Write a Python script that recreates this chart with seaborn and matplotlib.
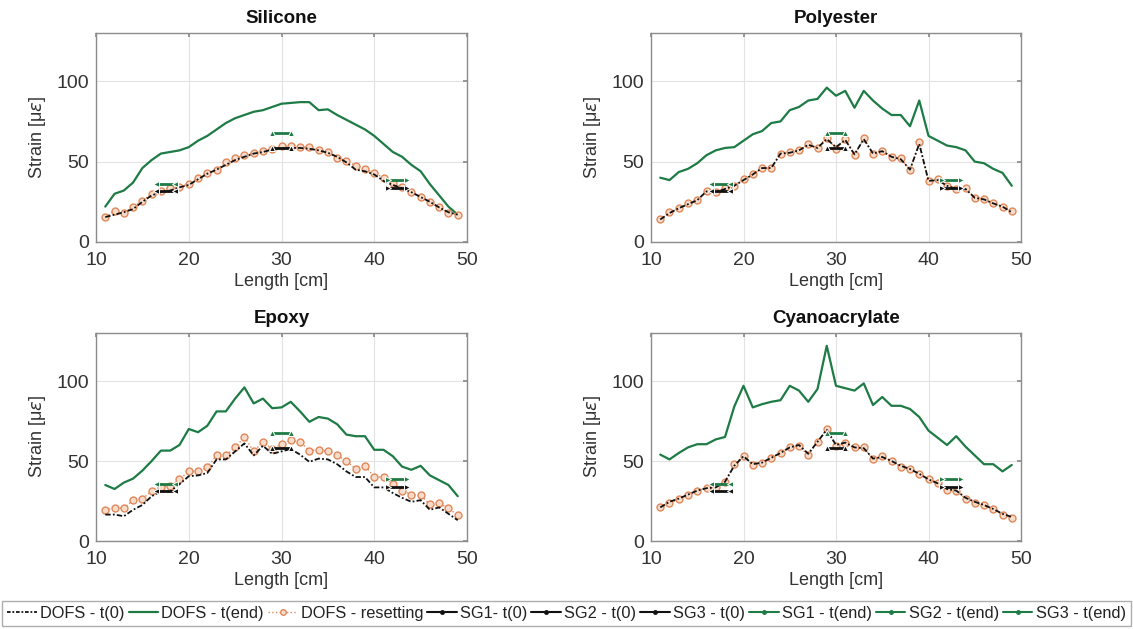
import numpy as np
import pandas as pd
import matplotlib
matplotlib.use("Agg")
import matplotlib.pyplot as plt
import seaborn as sns
from matplotlib.lines import Line2D

sns.set_theme(style="whitegrid")
plt.rcParams['font.family'] = ['Liberation Sans', 'DejaVu Sans']
plt.rcParams['mathtext.fontset'] = 'dejavusans'

length = list(range(11, 50))
titles = ["Silicone", "Polyester", "Epoxy", "Cyanoacrylate"]

sil_t0 = [15.5, 17, 18.5, 20.5, 25, 29, 31, 32, 34, 35.5, 39, 42.5, 45, 48, 51, 53, 55, 56, 57.5, 58.5,
          58.5, 58.5, 58, 57, 55.5, 53, 49.5, 45, 44, 42, 38, 35.5, 33.5, 31, 28, 25, 21.5, 18.5, 17]
sil_tend = [22, 30, 32, 37, 46, 51, 55, 56, 57, 59, 63, 66, 70, 74, 77, 79, 81, 82, 84, 86,
            86.5, 87, 87, 82, 82.5, 79, 76, 73, 70, 66, 61, 56, 53, 48, 44, 36, 29, 22, 17]
sil_reset = [15.5, 19.5, 18, 22, 25.5, 30, 32, 33.5, 34.5, 36, 40, 43, 45, 49.5, 52, 54, 55.5, 56.5, 58, 59.5,
             59.5, 59, 59, 57, 56, 52.5, 50.5, 47.5, 45.5, 43, 40, 36.5, 34, 31, 28, 25, 21.5, 18, 17]

pol_t0 = [14, 18, 21, 23.5, 26, 31.5, 31, 33, 35, 38.5, 42, 46, 46, 55, 55.5, 57, 60.5, 58.5, 64, 59,
          63.5, 54.5, 64, 55, 56.5, 53, 51.5, 45, 61, 38, 38.5, 35, 33, 33, 27.5, 26.5, 24, 22, 18.5]
pol_tend = [40, 38.5, 43.5, 45.5, 49, 54, 57, 58.5, 59, 63, 67, 69, 74, 75, 82, 84, 88, 89, 96, 91,
            94, 83.5, 94, 88, 83, 79, 79, 72, 88, 66, 63, 60, 59, 57, 50, 49, 45.5, 43, 35]
pol_reset = [14, 18.5, 21, 24, 26, 32, 31, 33.5, 35, 39, 42, 46, 46, 55, 56, 57, 61, 58.5, 65, 58,
             64, 54, 64.5, 55, 56.5, 53, 52, 45, 62, 38, 39, 35, 33, 33.5, 27.5, 27, 24, 22, 19]

epo_t0 = [16.5, 16.5, 15.5, 19.5, 22.5, 28, 31, 31, 35.5, 40.5, 41, 42.5, 51, 51, 56, 61, 53.5, 59.5, 54.5, 56,
          57.5, 54, 49.5, 51.5, 51, 48, 43.5, 40, 40, 33.5, 33.5, 30, 27, 24.5, 25.5, 19.5, 21, 17, 13]
epo_tend = [35, 32.5, 36.5, 39, 44, 50, 56.5, 56.5, 60, 70, 68, 72, 81, 81, 89, 96, 86, 89, 83, 83.5,
            87, 81, 74.5, 77.5, 76.5, 73, 66.5, 65.5, 65.5, 57, 57, 53, 46.5, 44.5, 47, 41, 38, 35, 28]
epo_reset = [19.5, 20.5, 20.5, 25.5, 26.5, 31, 34, 34.5, 38.5, 43.5, 43.5, 46, 53.5, 53.5, 58.5, 65, 56, 62, 57.5, 60.5,
             63, 62, 56.5, 57, 56, 53.5, 50, 45, 47, 40, 40, 35.5, 31.5, 29, 28.5, 23, 23.5, 20.5, 16]

cya_t0 = [21, 24.5, 26.5, 29, 31.5, 33, 33.5, 37, 47, 53, 48, 49, 52, 55, 58.5, 60, 54.5, 62, 69.5, 60,
          61.5, 58.5, 58, 51.5, 52.5, 50, 47, 45, 42, 38.5, 36, 32.5, 31.5, 27, 24.5, 22.5, 20, 17, 15]
cya_tend = [54, 51, 55, 58.5, 60.5, 60.5, 63.5, 65, 84, 97, 83.5, 85.5, 87, 88, 97, 94, 87, 95, 122, 97,
            95.5, 94, 98.5, 85, 90, 84.5, 84.5, 82.5, 77.5, 69, 64.5, 60, 65.5, 59, 53.5, 48, 48, 43.5, 47.5]
cya_reset = [21, 24, 26, 29, 31.5, 33, 34, 37, 48, 53, 47.5, 48.5, 52, 55, 59, 59.5, 53.5, 62, 70, 59.5,
             61, 58.5, 58.5, 51, 53, 50, 46.5, 45, 42, 39, 36.5, 32, 31.5, 26.5, 24, 22.5, 20, 16.5, 14.5]

t0_all = [sil_t0, pol_t0, epo_t0, cya_t0]
tend_all = [sil_tend, pol_tend, epo_tend, cya_tend]
reset_all = [sil_reset, pol_reset, epo_reset, cya_reset]

# strain gauges: x extent and values
sg_x = [[16.5, 18.5], [29, 31], [41.5, 43.5]]
sg_t0 = [31.5, 58.2, 33.5]
sg_tend = [35.8, 67.5, 38.8]
sg_markers = ["<", "^", ">"]

GREEN = "#1e7b45"
ORANGE = "#e0885a"
BLACK = "#111111"

W, H = 1133, 629
fig = plt.figure(figsize=(W / 100, H / 100), dpi=100)
fig.patch.set_facecolor("white")

boxes = [(96, 33, 467, 242), (651, 33, 1021, 242), (96, 333, 467, 541), (651, 333, 1021, 541)]

for i, (l, t, r, b) in enumerate(boxes):
    ax = fig.add_axes([l / W, (H - b) / H, (r - l) / W, (b - t) / H])
    df = pd.DataFrame({"x": length, "t0": t0_all[i], "tend": tend_all[i], "reset": reset_all[i]})
    sns.lineplot(data=df, x="x", y="tend", ax=ax, color=GREEN, lw=1.6, estimator=None, sort=False)
    sns.lineplot(data=df, x="x", y="reset", ax=ax, color=ORANGE, lw=1.0, ls=":", marker="o",
                 markersize=5, markerfacecolor="#f8dccb", markeredgecolor=ORANGE, markeredgewidth=1.0,
                 estimator=None, sort=False)
    sns.lineplot(data=df, x="x", y="t0", ax=ax, color=BLACK, lw=1.3, estimator=None, sort=False)
    ax.lines[-1].set_dashes([3, 1.2, 1, 1.2])
    for k in range(3):
        sdf = pd.DataFrame({"x": sg_x[k], "y": [sg_t0[k]] * 2})
        sns.lineplot(data=sdf, x="x", y="y", ax=ax, color=BLACK, lw=2.0, marker=sg_markers[k],
                     markersize=5, estimator=None, sort=False)
        sdf2 = pd.DataFrame({"x": sg_x[k], "y": [sg_tend[k]] * 2})
        sns.lineplot(data=sdf2, x="x", y="y", ax=ax, color=GREEN, lw=2.0, marker=sg_markers[k],
                     markersize=5, estimator=None, sort=False)
    ax.set_xlim(10, 50)
    ax.set_ylim(0, 130)
    ax.set_xticks([10, 20, 30, 40, 50])
    ax.set_yticks([0, 50, 100])
    ax.set_facecolor("white")
    ax.grid(True, color="#e3e3e3", lw=0.8)
    for s in ax.spines.values():
        s.set_color("#8c8c8c")
        s.set_linewidth(1.0)
    ax.tick_params(axis="both", labelsize=14, colors="#8c8c8c", labelcolor="#333333",
                   length=3, direction="in", top=True, right=True)
    ax.tick_params(axis="x", pad=7)
    ax.tick_params(axis="y", pad=5)
    ax.set_xlabel("Length [cm]", fontsize=13, color="#333333", labelpad=3)
    ax.set_ylabel("Strain [\u03bc$\\epsilon$]", fontsize=13, color="#333333", labelpad=6)
    ax.set_title(titles[i], fontsize=13.5, fontweight="bold", color="#111111", pad=7)

handles = [
    Line2D([], [], color=BLACK, lw=1.3, dashes=[2, 1, 1, 1]),
    Line2D([], [], color=GREEN, lw=1.6),
    Line2D([], [], color=ORANGE, lw=1.0, ls=":", marker="o", markersize=4,
           markerfacecolor="#f8dccb", markeredgecolor=ORANGE),
]
labels = ["DOFS - t(0)", "DOFS - t(end)", "DOFS - resetting"]
for k in range(3):
    handles.append(Line2D([], [], color=BLACK, lw=1.5, marker=".", markersize=5))
    labels.append(["SG1- t(0)", "SG2 - t(0)", "SG3 - t(0)"][k])
for k in range(3):
    handles.append(Line2D([], [], color=GREEN, lw=1.5, marker=".", markersize=5))
    labels.append(["SG1 - t(end)", "SG2 - t(end)", "SG3 - t(end)"][k])

leg = fig.legend(handles, labels, loc="lower center", bbox_to_anchor=(0.5, 0.002), ncol=9,
                 fontsize=11.8, frameon=True, fancybox=False, handlelength=1.8, handletextpad=0.2,
                 columnspacing=0.25, borderpad=0.3, borderaxespad=0.1)
leg.get_frame().set_edgecolor("#999999")
leg.get_frame().set_linewidth(1.0)
for t in leg.get_texts():
    t.set_color("#222222")

fig.savefig("out.png", dpi=100)
